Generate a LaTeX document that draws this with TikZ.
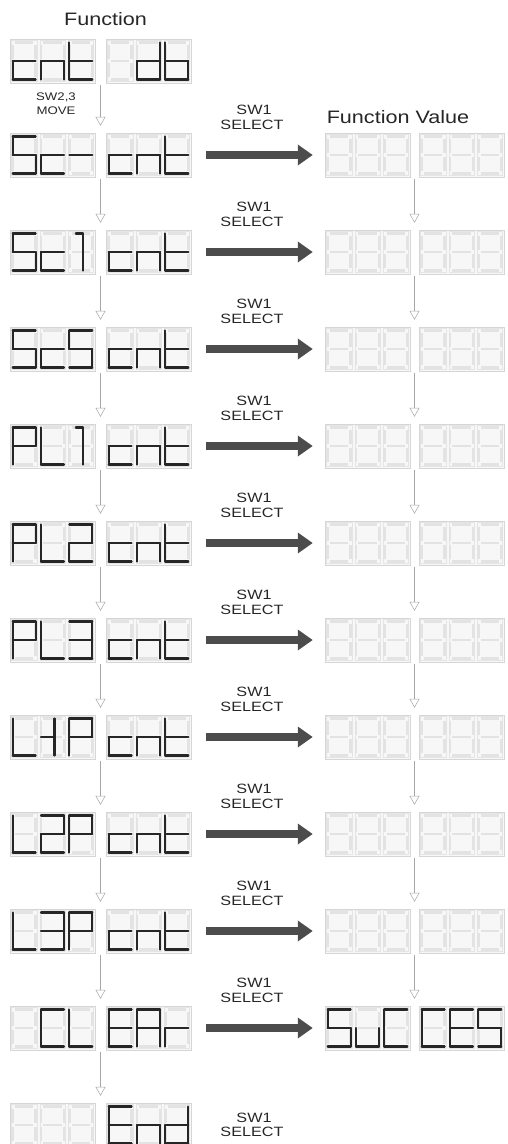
\documentclass[tikz,border=0pt]{standalone}
\usepackage{fontspec}
\setmainfont{Liberation Sans}
\newfontfamily\lblfont[FakeStretch=1.2]{Liberation Sans}
\usetikzlibrary{arrows.meta,calc}

% segment paths (relative to digit centre, y downwards)
\def\sega{(-11.5,-18.5)--(11.5,-18.5)}
\def\segb{(11.5,-18.5)--(11.5,0)}
\def\segc{(11.5,0)--(11.5,18.5)}
\def\segd{(-11.5,18.5)--(11.5,18.5)}
\def\sege{(-11.5,0)--(-11.5,18.5)}
\def\segf{(-11.5,-18.5)--(-11.5,0)}
\def\segg{(-11.5,0)--(11.5,0)}
\def\segh{(2,-18.5)--(2,18.5)}
\def\segk{(-5,-18.5)--(2,-18.5)}
\def\segm{(-11.5,0)--(2,0)}
\def\segz{(0,0)}

% digits
\def\Dfive{a,f,g,c,d}
\def\Dc{g,e,d}
\def\Dminus{g}
\def\Dn{e,g,c}
\def\Dt{f,e,g,d}
\def\Dd{b,c,d,e,g}
\def\Db{f,e,d,c,g}
\def\DP{a,b,f,g,e}
\def\DL{f,e,d}
\def\Done{k,h}
\def\Dtwo{a,b,g,e,d}
\def\Dthree{a,b,g,c,d}
\def\DC{a,f,e,d}
\def\DE{a,f,g,e,d}
\def\DA{a,b,c,e,f,g}
\def\Dr{e,g}
\def\Du{e,d,c}
\def\Dx{z}
\def\Dlone{m,h}

\newcommand\dig[3]{%
  \begin{scope}[shift={(#1,#2)}]
    \foreach \s in {a,b,c,d,e,f,g}{\edef\tmp{\noexpand\draw[unlit] \csname seg\s\endcsname;}\tmp}
    \foreach \s in #3{\edef\tmp{\noexpand\draw[lit] \csname seg\s\endcsname;}\tmp}
  \end{scope}}

\newcommand\disp[6]{%
  \node[dispbox] (#1) at ({#2+42.5},#3) {};
  \foreach \i in {0,1,2}{\draw[cellbox] ({#2+\i*28.333+1.5},{#3-20.5}) rectangle ++(25.33,41);}
  \dig{#2+14.17}{#3}{#4}\dig{#2+42.5}{#3}{#5}\dig{#2+70.83}{#3}{#6}}

\begin{document}
\begin{tikzpicture}[x=1pt,y=-1pt,
  dispbox/.style={draw=black!16,fill=black!3,line width=0.5pt,minimum width=85pt,minimum height=44pt,inner sep=0pt},
  cellbox/.style={draw=black!10,line width=0.4pt},
  unlit/.style={draw=black!11,line width=2.6pt,shorten <=2.2pt,shorten >=2.2pt},
  lit/.style={draw=black!85,line width=2.1pt,line cap=round,line join=round},
  lbl/.style={font=\lblfont\fontsize{13.5}{15}\selectfont,text=black!85,inner sep=0pt,anchor=base},
  small/.style={font=\lblfont\fontsize{11}{12}\selectfont,text=black!85,inner sep=0pt,anchor=base},
  title/.style={font=\lblfont\fontsize{18}{20}\selectfont,text=black!85,inner sep=0pt,anchor=base},
  varrow/.style={draw=black!35,line width=0.5pt,-{Triangle[open,length=9pt,width=10pt]},shorten <=2pt,shorten >=7pt},
  bigarrow/.style={draw=black!70,line width=8pt,-{Triangle[length=15pt,width=20pt]},shorten <=15pt,shorten >=12pt}
]
\useasboundingbox (0,0) rectangle (508,1144);

\node[title] (tf) at (105.5,25) {Function};
\node[title] (tv) at (398,123) {Function Value};
\node[small] (sw23) at (56,100) {SW2,3};
\node[small] (mv) at (56,114) {MOVE};

% row 0
\disp{L0a}{10}{61}{\Dc}{\Dn}{\Dt}
\disp{L0b}{106}{61}{\Dx}{\Dd}{\Db}
% rows 1..11
\disp{L1a}{10}{155}{\Dfive}{\Dc}{\Dminus}
\disp{L1b}{106}{155}{\Dc}{\Dn}{\Dt}
\disp{L2a}{10}{252}{\Dfive}{\Dc}{\Done}
\disp{L2b}{106}{252}{\Dc}{\Dn}{\Dt}
\disp{L3a}{10}{349}{\Dfive}{\Dc}{\Dfive}
\disp{L3b}{106}{349}{\Dc}{\Dn}{\Dt}
\disp{L4a}{10}{446}{\DP}{\DL}{\Done}
\disp{L4b}{106}{446}{\Dc}{\Dn}{\Dt}
\disp{L5a}{10}{543}{\DP}{\DL}{\Dtwo}
\disp{L5b}{106}{543}{\Dc}{\Dn}{\Dt}
\disp{L6a}{10}{640}{\DP}{\DL}{\Dthree}
\disp{L6b}{106}{640}{\Dc}{\Dn}{\Dt}
\disp{L7a}{10}{737}{\DL}{\Dlone}{\DP}
\disp{L7b}{106}{737}{\Dc}{\Dn}{\Dt}
\disp{L8a}{10}{834}{\DL}{\Dtwo}{\DP}
\disp{L8b}{106}{834}{\Dc}{\Dn}{\Dt}
\disp{L9a}{10}{931}{\DL}{\Dthree}{\DP}
\disp{L9b}{106}{931}{\Dc}{\Dn}{\Dt}
\disp{L10a}{10}{1028}{\Dx}{\DC}{\DL}
\disp{L10b}{106}{1028}{\DE}{\DA}{\Dr}
\disp{L11a}{10}{1125}{\Dx}{\Dx}{\Dx}
\disp{L11b}{106}{1125}{\DE}{\Dn}{\Dd}

% value column
\foreach \k/\y in {1/155,2/252,3/349,4/446,5/543,6/640,7/737,8/834,9/931}{
  \disp{R\k a}{325}{\y}{\Dx}{\Dx}{\Dx}
  \disp{R\k b}{419}{\y}{\Dx}{\Dx}{\Dx}
}
\disp{R10a}{325}{1028}{\Dfive}{\Du}{\DC}
\disp{R10b}{419}{1028}{\DC}{\DE}{\Dfive}

% vertical arrows, function column
\foreach \k [evaluate=\k as \n using int(\k+1)] in {0,...,10}{
  \draw[varrow] ($(L\k a.south east)!.5!(L\k b.south west)$) -- ($(L\n a.north east)!.5!(L\n b.north west)$);
}
% vertical arrows, value column
\foreach \k [evaluate=\k as \n using int(\k+1)] in {1,...,9}{
  \draw[varrow] ($(R\k a.south east)!.5!(R\k b.south west)$) -- ($(R\n a.north east)!.5!(R\n b.north west)$);
}

% select arrows and labels
\foreach \k/\y in {1/155,2/252,3/349,4/446,5/543,6/640,7/737,8/834,9/931,10/1028}{
  \draw[bigarrow] (L\k b.east) -- (R\k a.west);
  \node[lbl] (sw\k) at (254,\y-41) {SW1};
  \node[lbl] (se\k) at (252,\y-26) {SELECT};
}
\node[lbl] (sw11) at (254,1122) {SW1};
\node[lbl] (se11) at (252,1136) {SELECT};
\end{tikzpicture}
\end{document}
